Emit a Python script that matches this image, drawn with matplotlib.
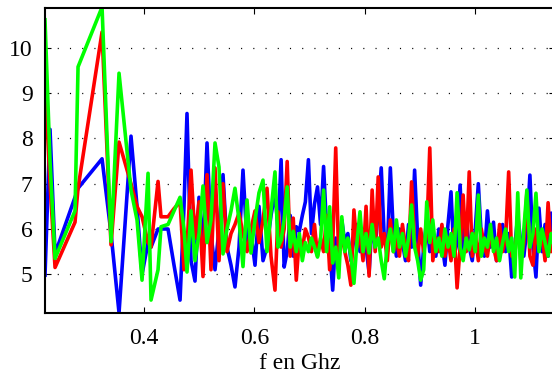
import numpy as np
import matplotlib
matplotlib.use('Agg')
import matplotlib.pyplot as plt

plt.rcParams['font.family'] = ['Liberation Serif', 'DejaVu Serif']
plt.rcParams['lines.scale_dashes'] = False

# frequency points (GHz): sparse start, then dense
freq_start = [0.2205, 0.2296, 0.2387, 0.2749, 0.2804, 0.3239, 0.3402, 0.3547, 0.3764, 0.3873,
              0.3964, 0.4073, 0.4127, 0.4254, 0.4308, 0.4435, 0.4544, 0.4653, 0.4725, 0.4779,
              0.4852, 0.4924, 0.4997, 0.5069, 0.5142, 0.5214, 0.5287, 0.5359, 0.5432, 0.5504,
              0.5577, 0.5649, 0.5722, 0.5794, 0.5867, 0.5939, 0.6012, 0.6084, 0.6157, 0.6229,
              0.6302, 0.6374]
freq_dense = [0.643, 0.6485, 0.654, 0.6595, 0.665, 0.6705, 0.676, 0.6815, 0.687, 0.6925,
              0.698, 0.7035, 0.709, 0.7145, 0.72, 0.7255, 0.731, 0.7365, 0.742, 0.7475,
              0.753, 0.7585, 0.764, 0.7695, 0.775, 0.7805, 0.786, 0.7915, 0.797, 0.8025,
              0.808, 0.8135, 0.819, 0.8245, 0.83, 0.8355, 0.841, 0.8465, 0.852, 0.8575,
              0.863, 0.8685, 0.874, 0.8795, 0.885, 0.8905, 0.896, 0.9015, 0.907, 0.9125,
              0.918, 0.9235, 0.929, 0.9345, 0.94, 0.9455, 0.951, 0.9565, 0.962, 0.9675,
              0.973, 0.9785, 0.984, 0.9895, 0.995, 1.0005, 1.006, 1.0115, 1.017, 1.0225,
              1.028, 1.0335, 1.039, 1.0445, 1.05, 1.0555, 1.061, 1.0665, 1.072, 1.0775,
              1.083, 1.0885, 1.094, 1.0995, 1.105, 1.1105, 1.116, 1.1215, 1.127, 1.1325,
              1.138, 1.1435]

blue = [4.98, 8.2, 5.45, 6.7, 6.9, 7.55, 5.9, 4.15, 8.05, 6.5,
        5.0, 5.7, 5.6, 6.0, 6.0, 6.0, 5.2, 4.43, 6.5, 8.55,
        5.3, 4.85, 6.7, 5.5, 7.9, 5.9, 5.1, 6.0, 7.2, 5.6,
        5.2, 4.72, 5.6, 7.3, 5.7, 5.9, 5.2, 6.5, 5.3, 5.6,
        6.3, 6.8,
        6.0, 7.53, 5.16, 5.5, 6.3, 5.4, 6.05, 5.95, 6.3, 6.6,
        7.53, 5.9, 6.55, 6.93, 6.1, 7.38, 6.0, 5.6, 4.65, 5.8,
        5.5, 6.2, 5.7, 5.9, 5.3, 5.8, 6.1, 5.5, 5.98, 5.6,
        5.03, 6.2, 5.6, 6.4, 7.35, 5.8, 5.5, 7.35, 5.9, 5.4,
        6.0, 5.7, 5.3, 6.1, 5.6, 7.3, 5.8, 4.76, 5.6, 6.2,
        5.5, 5.9, 5.4, 6.0, 5.7, 5.2, 6.1, 6.82, 5.4, 5.7,
        6.97, 5.5, 6.2, 5.6, 5.3, 6.0, 7.0, 5.8, 5.4, 6.4,
        5.6, 6.15, 5.3, 5.8, 6.1, 5.5, 5.9, 4.94, 5.6, 6.3,
        5.7, 5.4, 6.0, 7.19, 5.6, 4.94, 6.46, 5.5, 6.1, 5.4,
        6.35, 5.8]

red = [9.3, 7.0, 5.15, 6.15, 6.9, 10.35, 5.65, 7.92, 7.0, 6.5,
       6.27, 5.7, 5.6, 7.05, 6.27, 6.27, 6.45, 6.6, 5.1, 5.6,
       7.3, 5.8, 6.6, 4.95, 7.2, 5.1, 7.35, 5.3, 7.0, 5.5,
       5.9, 6.1, 6.35, 5.9, 5.5, 6.0, 6.4, 5.7, 6.2, 6.9,
       5.4, 4.65,
       6.38, 5.6, 6.0, 7.49, 5.4, 6.24, 4.87, 5.8, 5.54, 6.0,
       5.82, 5.5, 6.1, 5.4, 5.8, 5.5, 6.3, 5.1, 5.6, 7.79,
       5.3, 5.9, 5.5, 5.2, 4.76, 6.42, 5.6, 5.9, 5.3, 6.5,
       4.96, 6.86, 5.5, 7.15, 5.6, 5.9, 5.3, 6.2, 5.5, 5.8,
       5.4, 6.1, 5.6, 5.3, 7.04, 5.7, 5.4, 6.0, 5.5, 5.9,
       7.79, 5.3, 5.8, 5.5, 6.1, 5.4, 5.8, 5.3, 6.0, 4.7,
       5.6, 6.75, 5.5, 7.26, 5.4, 5.9, 5.3, 6.0, 5.6, 5.4,
       5.9, 5.6, 5.3, 6.1, 5.5, 5.8, 7.26, 5.4, 5.6, 6.0,
       5.3, 5.7, 6.8, 5.4, 5.2, 6.0, 5.6, 5.9, 5.3, 6.58,
       5.5, 5.8]

green = [10.62, 7.5, 5.35, 6.4, 9.58, 10.9, 5.72, 9.44, 6.86, 6.2,
         4.87, 7.23, 4.43, 5.1, 6.05, 6.1, 6.4, 6.7, 6.0, 5.05,
         6.4, 5.3, 5.9, 6.95, 5.7, 6.2, 7.9, 7.37, 5.45, 6.0,
         6.4, 6.9, 6.2, 5.17, 6.64, 5.47, 6.2, 6.8, 7.08, 5.5,
         6.4, 7.26,
         5.6, 5.75, 6.2, 6.93, 5.6, 5.95, 5.5, 5.9, 5.3, 5.7,
         5.5, 5.8, 5.6, 5.38, 5.75, 6.86, 5.5, 6.49, 5.25, 5.6,
         4.92, 6.27, 5.5, 5.8, 5.4, 4.8, 5.7, 6.38, 5.5, 5.9,
         5.47, 6.1, 5.6, 5.8, 5.3, 4.9, 5.7, 6.0, 5.5, 6.2,
         5.6, 5.9, 5.4, 5.8, 6.53, 5.6, 5.3, 4.87, 5.1, 6.6,
         5.7, 6.2, 5.5, 5.8, 5.4, 6.0, 5.6, 5.9, 5.4, 6.8,
         5.6, 5.3, 5.8, 5.54, 5.9, 5.5, 6.75, 5.4, 5.8, 5.6,
         6.1, 5.5, 5.8, 5.3, 5.7, 6.0, 5.5, 5.8, 4.94, 6.8,
         4.92, 6.0, 6.86, 5.6, 5.9, 6.79, 5.5, 6.0, 5.7, 5.4,
         5.9, 5.6]

freq = freq_start + freq_dense
xticks = [0.4, 0.6, 0.8, 1.0]
xticklabels = ['0.4', '0.6', '0.8', '1']
yticks = [5, 6, 7, 8, 9, 10]

fig = plt.figure(figsize=(5.52, 3.81), dpi=100)
ax = fig.add_axes([45 / 552, 68 / 381, 510 / 552, 305 / 381])

ax.plot(freq, blue, color=(0, 0, 1), lw=2.6)
ax.plot(freq, red, color=(1, 0, 0), lw=2.6)
ax.plot(freq, green, color=(0, 1, 0), lw=2.6)

ax.set_xlim(0.2205, 1.145)
ax.set_ylim(4.145, 10.88)
ax.set_xticks(xticks)
ax.set_xticklabels(xticklabels)
ax.set_yticks(yticks)
ax.yaxis.grid(True, color='black', linestyle=(0, (0.8, 8)), linewidth=0.9)
ax.tick_params(direction='in', length=4, width=0.8, top=True, right=True,
               labelsize=17, pad=9)
ax.tick_params(axis='x', pad=11)
for s in ax.spines.values():
    s.set_linewidth(1.5)
ax.set_xlabel('f en Ghz', fontsize=17, labelpad=3)

fig.savefig('out.png', dpi=100)
